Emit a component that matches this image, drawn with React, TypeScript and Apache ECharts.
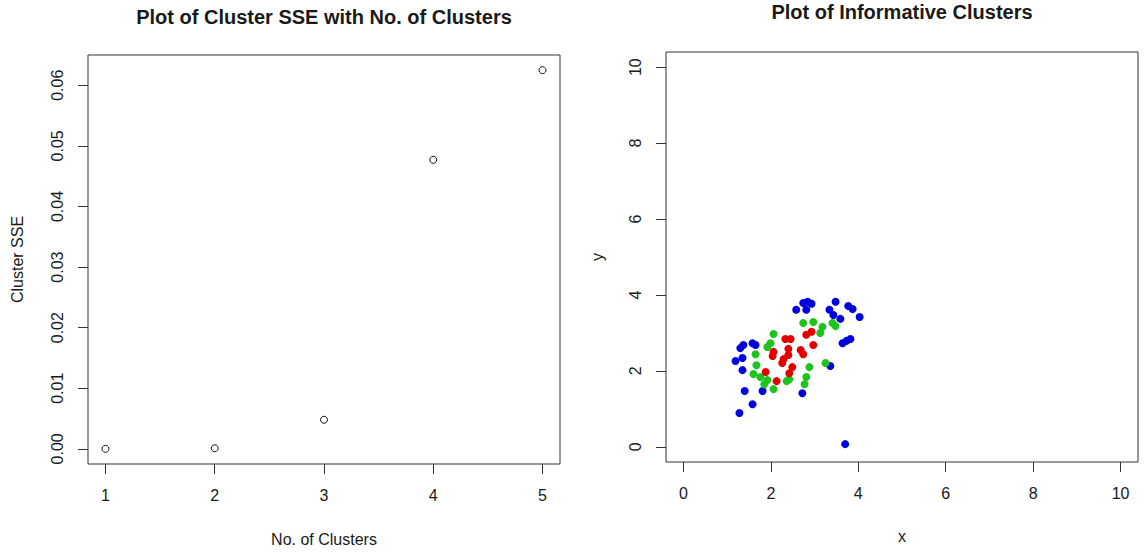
import React, { useEffect, useRef } from "react";
import * as echarts from "echarts";

// Left panel: SSE by number of clusters
const clusterCounts = [1, 2, 3, 4, 5];
const clusterSSE = [0.0, 0.0001, 0.0048, 0.0477, 0.0625];
const sseTicks = [0, 0.01, 0.02, 0.03, 0.04, 0.05, 0.06];
const countTicks = [1, 2, 3, 4, 5];

// Right panel: cluster points [x, y]
const bluePoints = [
  [2.58, 3.61], [2.74, 3.79], [2.84, 3.82], [2.93, 3.77], [2.81, 3.61],
  [3.48, 3.82], [3.34, 3.61], [3.43, 3.47], [3.59, 3.37], [3.77, 3.71],
  [3.87, 3.63], [4.03, 3.42], [3.64, 2.73], [3.73, 2.79], [3.82, 2.84],
  [1.37, 2.68], [1.58, 2.73], [1.65, 2.68], [1.30, 2.60], [1.19, 2.26],
  [1.35, 2.34], [1.35, 2.02], [3.36, 2.13], [1.40, 1.47], [1.81, 1.47],
  [1.58, 1.12], [1.28, 0.89], [2.72, 1.41], [3.70, 0.07],
];
const greenPoints = [
  [2.74, 3.26], [2.97, 3.29], [3.18, 3.16], [3.13, 3.00], [3.41, 3.26],
  [3.48, 3.18], [2.06, 2.97], [1.99, 2.73], [1.92, 2.63], [1.65, 2.44],
  [1.67, 2.15], [1.60, 1.92], [1.76, 1.84], [1.92, 1.76], [1.85, 1.65],
  [2.06, 1.52], [2.36, 1.73], [2.42, 1.78], [2.88, 2.10], [2.81, 1.84],
  [2.77, 1.65], [3.25, 2.21],
];
const redPoints = [
  [2.33, 2.84], [2.45, 2.84], [2.81, 2.95], [2.93, 3.03], [2.97, 2.68],
  [2.06, 2.50], [2.04, 2.39], [2.40, 2.58], [2.40, 2.42], [2.68, 2.55],
  [2.74, 2.44], [2.29, 2.31], [2.26, 2.21], [2.49, 2.10], [2.42, 1.94],
  [1.88, 1.97], [2.13, 1.73],
];
const xyTicks = [0, 2, 4, 6, 8, 10];

const FONT = "'Liberation Sans', Arial, sans-serif";
const TEXT = "#1a1a1a";
const LINE = "#333";

function axisCommon(ticks: number[], fmt?: (v: number) => string, rotate = 0) {
  return {
    type: "value" as const,
    splitLine: { show: false },
    axisLine: { show: false, onZero: false },
    axisTick: {
      show: true,
      inside: false,
      length: 10,
      customValues: ticks,
      lineStyle: { color: LINE, width: 1 },
    },
    axisLabel: {
      customValues: ticks,
      fontSize: 16,
      color: TEXT,
      fontFamily: FONT,
      margin: 23,
      rotate,
      formatter: fmt ? (v: number) => fmt(v) : undefined,
    },
    nameLocation: "middle" as const,
    nameTextStyle: { fontSize: 16, color: TEXT, fontFamily: FONT },
  };
}

export default function App() {
  const ref = useRef<HTMLDivElement>(null);
  useEffect(() => {
    if (!ref.current) return;
    const chart = echarts.init(ref.current, undefined, { renderer: "svg" });
    const dot = (color: string) => ({
      type: "scatter" as const,
      xAxisIndex: 1,
      yAxisIndex: 1,
      symbol: "circle",
      symbolSize: 8,
      itemStyle: { color, opacity: 1 },
    });
    chart.setOption({
      animation: false,
      backgroundColor: "#ffffff",
      textStyle: { fontFamily: FONT },
      title: [
        {
          text: "Plot of Cluster SSE with No. of Clusters",
          left: 324,
          top: 7,
          padding: 0,
          textAlign: "center",
          textStyle: { fontSize: 20, fontWeight: "bold", color: TEXT, fontFamily: FONT },
        },
        {
          text: "Plot of Informative Clusters",
          left: 902,
          top: 2,
          padding: 0,
          textAlign: "center",
          textStyle: { fontSize: 20, fontWeight: "bold", color: TEXT, fontFamily: FONT },
        },
      ],
      grid: [
        { left: 88, top: 55, width: 472, height: 409, show: true, borderColor: LINE, borderWidth: 1, backgroundColor: "transparent" },
        { left: 666, top: 52, width: 472, height: 410, show: true, borderColor: LINE, borderWidth: 1, backgroundColor: "transparent" },
      ],
      xAxis: [
        { ...axisCommon(countTicks), gridIndex: 0, min: 0.84, max: 5.16, name: "No. of Clusters", nameGap: 67 },
        { ...axisCommon(xyTicks), gridIndex: 1, min: -0.4, max: 10.4, name: "x", nameGap: 66 },
      ],
      yAxis: [
        {
          ...axisCommon(sseTicks, (v) => v.toFixed(2), 90),
          gridIndex: 0,
          min: -0.0025,
          max: 0.065,
          name: "Cluster SSE",
          nameGap: 63,
        },
        { ...axisCommon(xyTicks, (v) => String(v), 90), gridIndex: 1, min: -0.4, max: 10.4, name: "y", nameGap: 61 },
      ],
      series: [
        {
          type: "scatter",
          xAxisIndex: 0,
          yAxisIndex: 0,
          symbol: "circle",
          symbolSize: 7,
          itemStyle: { color: "#ffffff", borderColor: "#111", borderWidth: 1, opacity: 1 },
          data: clusterCounts.map((c, i) => [c, clusterSSE[i]]),
        },
        { ...dot("#0000DD"), data: bluePoints },
        { ...dot("#1DC41D"), data: greenPoints },
        { ...dot("#E50000"), data: redPoints },
      ],
    });
    return () => chart.dispose();
  }, []);
  return (
    <div
      ref={ref}
      style={{ position: "fixed", left: 0, top: 0, width: 1146, height: 552, background: "#fff" }}
    />
  );
}
